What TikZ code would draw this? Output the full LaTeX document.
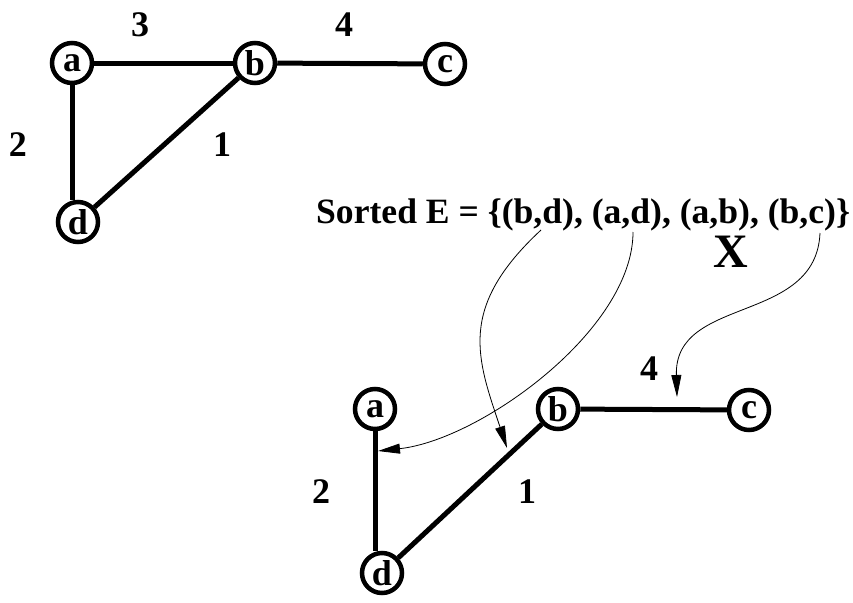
\documentclass[tikz,border=0pt]{standalone}
\usepackage{fontspec}
\setmainfont{Liberation Serif}
\usetikzlibrary{arrows.meta}
\tikzset{
  vtx/.style={circle, draw, line width=4.5pt, minimum size=40pt, inner sep=0pt,
    font=\fontsize{36}{36}\selectfont\bfseries},
  edg/.style={line width=5pt},
  lbl/.style={inner sep=0pt, font=\fontsize{36}{36}\selectfont\bfseries},
  ptr/.style={line width=0.8pt, -{Triangle[length=22pt,width=10pt]}}
}
\begin{document}
\begin{tikzpicture}[x=1pt,y=-1pt]
\useasboundingbox (0,0) rectangle (853,602);
% top graph
\node[vtx] (a1) at (72,63) {a};
\node[vtx] (b1) at (255,63) {b};
\node[vtx] (c1) at (445,64) {c};
\node[vtx] (d1) at (78,222) {d};
\draw[edg] (a1) -- (b1);
\draw[edg] (b1) -- (c1);
\draw[edg] (a1.south) -- (a1.south |- d1.north);
\draw[edg] (b1) -- (d1);
\node[lbl] (l3) at (140,25) {3};
\node[lbl] (l4) at (344,25) {4};
\node[lbl] (l2) at (18,145) {2};
\node[lbl] (l1) at (222,145) {1};
% sorted list
\node[anchor=base west, inner sep=0pt, font=\fontsize{35.6}{36}\selectfont\bfseries] (sorted) at (316,223) {Sorted E = \{(b,d), (a,d), (a,b), (b,c)\}};
\node[inner sep=0pt, font=\fontsize{48}{48}\selectfont\bfseries] (x) at (731,252) {X};
% bottom graph
\node[vtx] (a2) at (375,409) {a};
\node[vtx] (b2) at (558,409) {b};
\node[vtx] (c2) at (749,410) {c};
\node[vtx] (d2) at (382,573) {d};
\draw[edg] (b2) -- (c2);
\draw[edg] (a2.south) -- (a2.south |- d2.north);
\draw[edg] (b2) -- (d2);
\node[lbl] (m2) at (321,492) {2};
\node[lbl] (m1) at (527,492) {1};
\node[lbl] (m4) at (649,369) {4};
% pointers
\coordinate (s1) at (541,230);
\coordinate (s2) at (633,232);
\coordinate (s3) at (820,233);
\coordinate (e1) at (507,448);
\coordinate (e2) at (378,451);
\coordinate (e3) at (677,397);
\draw[ptr] (s1) .. controls (457,308) and (477,358) .. (e1);
\draw[ptr] (s2) .. controls (633,330) and (480,440) .. (e2);
\draw[ptr] (s3) .. controls (816,325) and (674,295) .. (e3);
\end{tikzpicture}
\end{document}
